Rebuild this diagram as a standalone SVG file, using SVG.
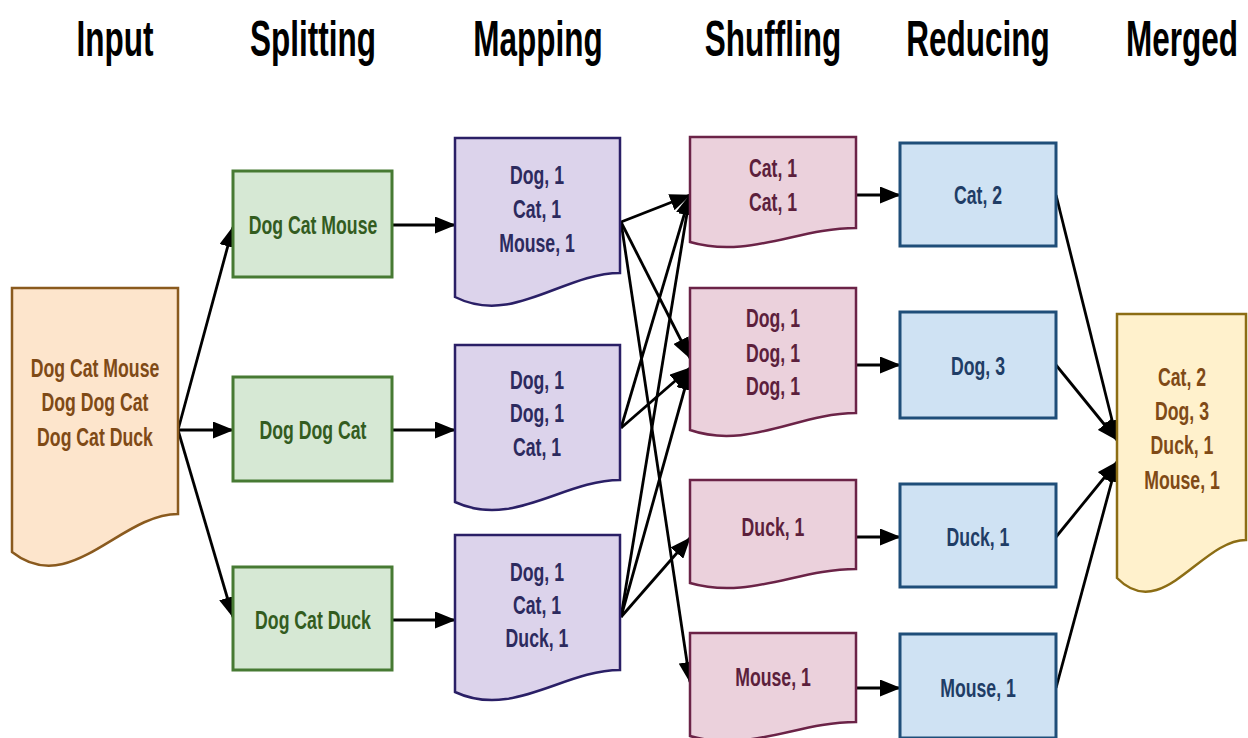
<svg xmlns="http://www.w3.org/2000/svg" width="1248" height="738" viewBox="0 0 1248 738">
<defs>
<marker id="ah" markerUnits="userSpaceOnUse" markerWidth="21" markerHeight="17" refX="20" refY="8.5" orient="auto">
<path d="M0,0 L21,8.5 L0,17 z" fill="#000"/>
</marker>
<style>
text{font-family:"Liberation Sans",Arial,sans-serif;font-weight:bold;text-anchor:middle}
.hd{font-size:50px;fill:#000}
.t{font-size:26px}
.conn line{stroke:#000;stroke-width:2.8;marker-end:url(#ah)}
.inp path{fill:#fde5cc;stroke:#8a5a1e;stroke-width:2.5}
.inp text{fill:#7f4a16}
.spl rect{fill:#d6e8d4;stroke:#477a33;stroke-width:3}
.spl text{fill:#335c1f}
.map path{fill:#dcd3eb;stroke:#2a1f66;stroke-width:2.5}
.map text{fill:#2c2a5e}
.shf path{fill:#ebd1dc;stroke:#6b2347;stroke-width:2.5}
.shf text{fill:#5c1f3c}
.red rect{fill:#cfe2f3;stroke:#1f4e79;stroke-width:3}
.red text{fill:#1f3d66}
.mrg path{fill:#fff1cc;stroke:#8c6d14;stroke-width:2.5}
.mrg text{fill:#7f4a16}
</style>
</defs>
<rect width="1248" height="738" fill="#fff"/>

<g id="headers">
<text class="hd" transform="translate(115 56) scale(0.63 1)">Input</text>
<text class="hd" transform="translate(313 56) scale(0.63 1)">Splitting</text>
<text class="hd" transform="translate(538 56) scale(0.63 1)">Mapping</text>
<text class="hd" transform="translate(773 56) scale(0.63 1)">Shuffling</text>
<text class="hd" transform="translate(978 56) scale(0.63 1)">Reducing</text>
<text class="hd" transform="translate(1182 56) scale(0.63 1)">Merged</text>
</g>

<g id="connectors" class="conn">
<line x1="178" y1="430" x2="233" y2="227"/>
<line x1="178" y1="430" x2="233" y2="430"/>
<line x1="178" y1="430" x2="233" y2="617"/>
<line x1="392" y1="225" x2="455" y2="225"/>
<line x1="392" y1="430" x2="455" y2="430"/>
<line x1="392" y1="620" x2="455" y2="620"/>
<line x1="621" y1="222" x2="690" y2="195"/>
<line x1="621" y1="222" x2="690" y2="358"/>
<line x1="621" y1="222" x2="690" y2="682"/>
<line x1="621" y1="428" x2="690" y2="195"/>
<line x1="621" y1="428" x2="690" y2="368"/>
<line x1="621" y1="617" x2="690" y2="195"/>
<line x1="621" y1="617" x2="690" y2="370"/>
<line x1="621" y1="617" x2="690" y2="538"/>
<line x1="856" y1="195" x2="900" y2="195"/>
<line x1="856" y1="365" x2="900" y2="365"/>
<line x1="856" y1="537" x2="900" y2="537"/>
<line x1="856" y1="688" x2="900" y2="688"/>
<line x1="1056" y1="195" x2="1117" y2="440"/>
<line x1="1056" y1="365" x2="1117" y2="440"/>
<line x1="1056" y1="537" x2="1117" y2="462"/>
<line x1="1056" y1="688" x2="1117" y2="462"/>
</g>

<g id="input" class="inp">
<path d="M12,288 H178 V514 C120,514 70,598 12,552 Z"/>
<text class="t" transform="translate(95 377) scale(0.68 1)">Dog Cat Mouse</text>
<text class="t" transform="translate(95 411) scale(0.68 1)">Dog Dog Cat</text>
<text class="t" transform="translate(95 446) scale(0.68 1)">Dog Cat Duck</text>
</g>

<g id="split1" class="spl">
<rect x="233" y="171" width="159" height="106"/>
<text class="t" transform="translate(313 234) scale(0.68 1)">Dog Cat Mouse</text>
</g>
<g id="split2" class="spl">
<rect x="233" y="377" width="159" height="104"/>
<text class="t" transform="translate(313 439) scale(0.68 1)">Dog Dog Cat</text>
</g>
<g id="split3" class="spl">
<rect x="233" y="567" width="159" height="103"/>
<text class="t" transform="translate(313 629) scale(0.68 1)">Dog Cat Duck</text>
</g>

<g id="map1" class="map">
<path d="M455,138 H620 V273 C563,273 513,326 455,297 Z"/>
<text class="t" transform="translate(537 184) scale(0.68 1)">Dog, 1</text>
<text class="t" transform="translate(537 218) scale(0.68 1)">Cat, 1</text>
<text class="t" transform="translate(537 252) scale(0.68 1)">Mouse, 1</text>
</g>
<g id="map2" class="map">
<path d="M455,345 H620 V480 C563,480 513,529 455,502 Z"/>
<text class="t" transform="translate(537 389) scale(0.68 1)">Dog, 1</text>
<text class="t" transform="translate(537 422) scale(0.68 1)">Dog, 1</text>
<text class="t" transform="translate(537 456) scale(0.68 1)">Cat, 1</text>
</g>
<g id="map3" class="map">
<path d="M455,535 H620 V670 C563,670 513,719 455,692 Z"/>
<text class="t" transform="translate(537 581) scale(0.68 1)">Dog, 1</text>
<text class="t" transform="translate(537 614) scale(0.68 1)">Cat, 1</text>
<text class="t" transform="translate(537 647) scale(0.68 1)">Duck, 1</text>
</g>

<g id="shuffle1" class="shf">
<path d="M690,137 H856 V228 C798,228 748,259 690,242 Z"/>
<text class="t" transform="translate(773 177) scale(0.68 1)">Cat, 1</text>
<text class="t" transform="translate(773 211) scale(0.68 1)">Cat, 1</text>
</g>
<g id="shuffle2" class="shf">
<path d="M690,288 H856 V413 C798,413 748,450 690,430 Z"/>
<text class="t" transform="translate(773 327) scale(0.68 1)">Dog, 1</text>
<text class="t" transform="translate(773 362) scale(0.68 1)">Dog, 1</text>
<text class="t" transform="translate(773 395) scale(0.68 1)">Dog, 1</text>
</g>
<g id="shuffle3" class="shf">
<path d="M690,480 H856 V569 C798,569 748,600 690,583 Z"/>
<text class="t" transform="translate(773 536) scale(0.68 1)">Duck, 1</text>
</g>
<g id="shuffle4" class="shf">
<path d="M690,633 H856 V722 C798,722 748,753 690,736 Z"/>
<text class="t" transform="translate(773 686) scale(0.68 1)">Mouse, 1</text>
</g>

<g id="reduce1" class="red">
<rect x="900" y="143" width="156" height="103"/>
<text class="t" transform="translate(978 204) scale(0.68 1)">Cat, 2</text>
</g>
<g id="reduce2" class="red">
<rect x="900" y="312" width="156" height="106"/>
<text class="t" transform="translate(978 375) scale(0.68 1)">Dog, 3</text>
</g>
<g id="reduce3" class="red">
<rect x="900" y="484" width="156" height="103"/>
<text class="t" transform="translate(978 546) scale(0.68 1)">Duck, 1</text>
</g>
<g id="reduce4" class="red">
<rect x="900" y="634" width="156" height="104"/>
<text class="t" transform="translate(978 697) scale(0.68 1)">Mouse, 1</text>
</g>

<g id="merged" class="mrg">
<path d="M1117,314 H1246 V540 C1201,540 1162,624 1117,578 Z"/>
<text class="t" transform="translate(1182 386) scale(0.68 1)">Cat, 2</text>
<text class="t" transform="translate(1182 420) scale(0.68 1)">Dog, 3</text>
<text class="t" transform="translate(1182 454) scale(0.68 1)">Duck, 1</text>
<text class="t" transform="translate(1182 489) scale(0.68 1)">Mouse, 1</text>
</g>
</svg>
